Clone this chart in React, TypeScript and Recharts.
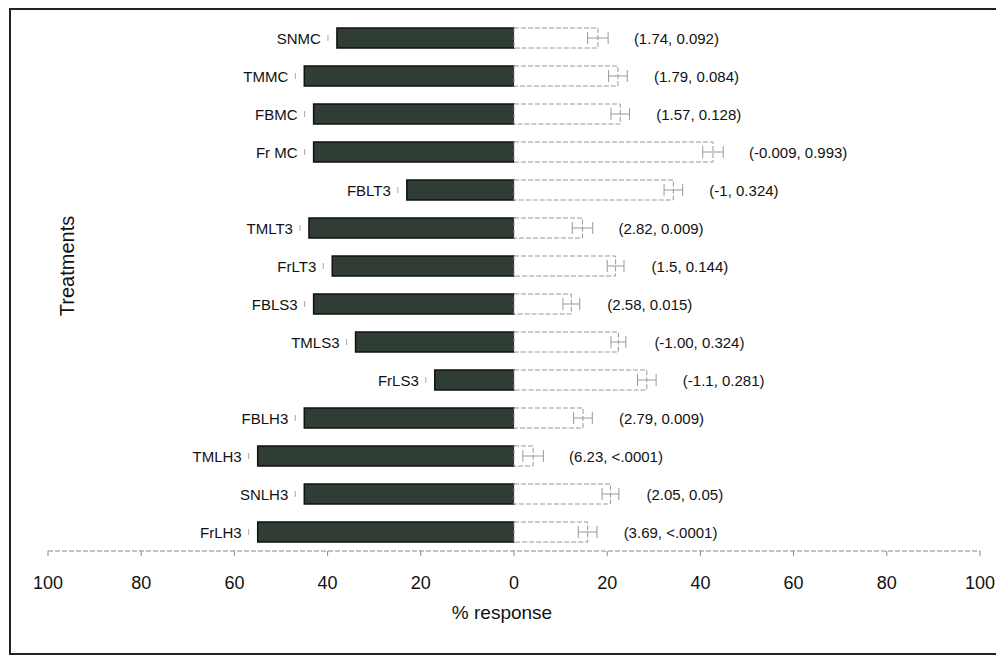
import { Bar, BarChart, ErrorBar, LabelList, XAxis, YAxis } from "recharts";

const treatments = [
  "SNMC", "TMMC", "FBMC", "Fr MC", "FBLT3", "TMLT3", "FrLT3",
  "FBLS3", "TMLS3", "FrLS3", "FBLH3", "TMLH3", "SNLH3", "FrLH3",
];
const negativeResponse = [-38, -45, -43, -43, -23, -44, -39, -43, -34, -17, -45, -55, -45, -55];
const positiveResponse = [18, 22.3, 22.8, 42.7, 34.2, 14.7, 21.8, 12.3, 22.4, 28.5, 14.8, 4.1, 20.7, 15.8];
const positiveError = [2.2, 2, 2, 2.2, 2, 2.2, 1.8, 1.8, 1.6, 2, 2, 2.2, 1.8, 2];
const statLabels = [
  "(1.74, 0.092)", "(1.79, 0.084)", "(1.57, 0.128)", "(-0.009, 0.993)",
  "(-1, 0.324)", "(2.82, 0.009)", "(1.5, 0.144)", "(2.58, 0.015)",
  "(-1.00, 0.324)", "(-1.1, 0.281)", "(2.79, 0.009)", "(6.23, <.0001)",
  "(2.05, 0.05)", "(3.69, <.0001)",
];
const xTicks = [-100, -80, -60, -40, -20, 0, 20, 40, 60, 80, 100];

const data = treatments.map((name, i) => ({
  name,
  neg: negativeResponse[i],
  pos: positiveResponse[i],
  err: positiveError[i],
  stat: statLabels[i],
}));

const SANS = "'Liberation Sans', Arial, sans-serif";
const NARROW = "'Liberation Sans Narrow', 'Liberation Sans', Arial, sans-serif";

function NameLabel(props: any) {
  const { x, y, width, height, value } = props;
  const left = Math.min(Number(x), Number(x) + Number(width));
  const cy = Number(y) + Number(height) / 2;
  return (
    <g>
      <line x1={left - 9} x2={left - 9} y1={cy - 3} y2={cy + 3} stroke="#aaa" strokeWidth={1} />
      <text x={left - 16} y={cy} textAnchor="end" dominantBaseline="central" fontSize={15} fill="#111" fontFamily={SANS}>
        {value}
      </text>
    </g>
  );
}

function StatLabel(props: any) {
  const { x, y, width, height, value } = props;
  const right = Math.max(Number(x), Number(x) + Number(width));
  const cy = Number(y) + Number(height) / 2;
  return (
    <text x={right + 36} y={cy} dominantBaseline="central" fontSize={15} fill="#111" fontFamily={SANS}>
      {value}
    </text>
  );
}

export default function App() {
  return (
    <div style={{ position: "absolute", left: 0, top: 0, width: 996, height: 661, overflow: "hidden", background: "#fff" }}>
      <div
        style={{
          position: "absolute",
          left: 9,
          top: 8,
          width: 1000,
          height: 647,
          border: "2px solid #222",
          boxSizing: "border-box",
        }}
      />
      <div style={{ position: "absolute", left: 0, top: 0 }}>
        <BarChart
          width={996}
          height={661}
          data={data}
          layout="vertical"
          stackOffset="sign"
          barSize={20}
          margin={{ top: 19, right: 16, bottom: 38, left: 48 }}
        >
          <XAxis
            type="number"
            domain={[-100, 100]}
            ticks={xTicks}
            tickFormatter={(v: number) => String(Math.abs(v))}
            height={72}
            tickSize={5}
            tickMargin={20}
            axisLine={{ stroke: "#888", strokeDasharray: "5 2" }}
            tickLine={{ stroke: "#888" }}
            tick={{ fill: "#111", fontSize: 18, fontFamily: NARROW }}
            label={{
              value: "% response",
              position: "insideBottom",
              offset: 4,
              dx: -12,
              fill: "#111",
              fontSize: 19,
              fontFamily: NARROW,
            }}
          />
          <YAxis type="category" dataKey="name" width={0} tick={false} tickLine={false} axisLine={false} />
          <Bar
            dataKey="neg"
            stackId="resp"
            fill="#2f3d35"
            stroke="#111"
            strokeWidth={1.5}
            isAnimationActive={false}
          >
            <LabelList dataKey="name" content={<NameLabel />} />
          </Bar>
          <Bar
            dataKey="pos"
            stackId="resp"
            fill="#fff"
            stroke="#999"
            strokeWidth={1}
            strokeDasharray="5 2"
            isAnimationActive={false}
          >
            <ErrorBar dataKey="err" width={6} stroke="#999" strokeWidth={1} direction="x" />
            <LabelList dataKey="stat" content={<StatLabel />} />
          </Bar>
        </BarChart>
      </div>
      <div
        style={{
          position: "absolute",
          left: 67,
          top: 266,
          transform: "translate(-50%, -50%) rotate(-90deg)",
          fontFamily: SANS,
          fontSize: 20,
          color: "#111",
          whiteSpace: "nowrap",
        }}
      >
        Treatments
      </div>
    </div>
  );
}
